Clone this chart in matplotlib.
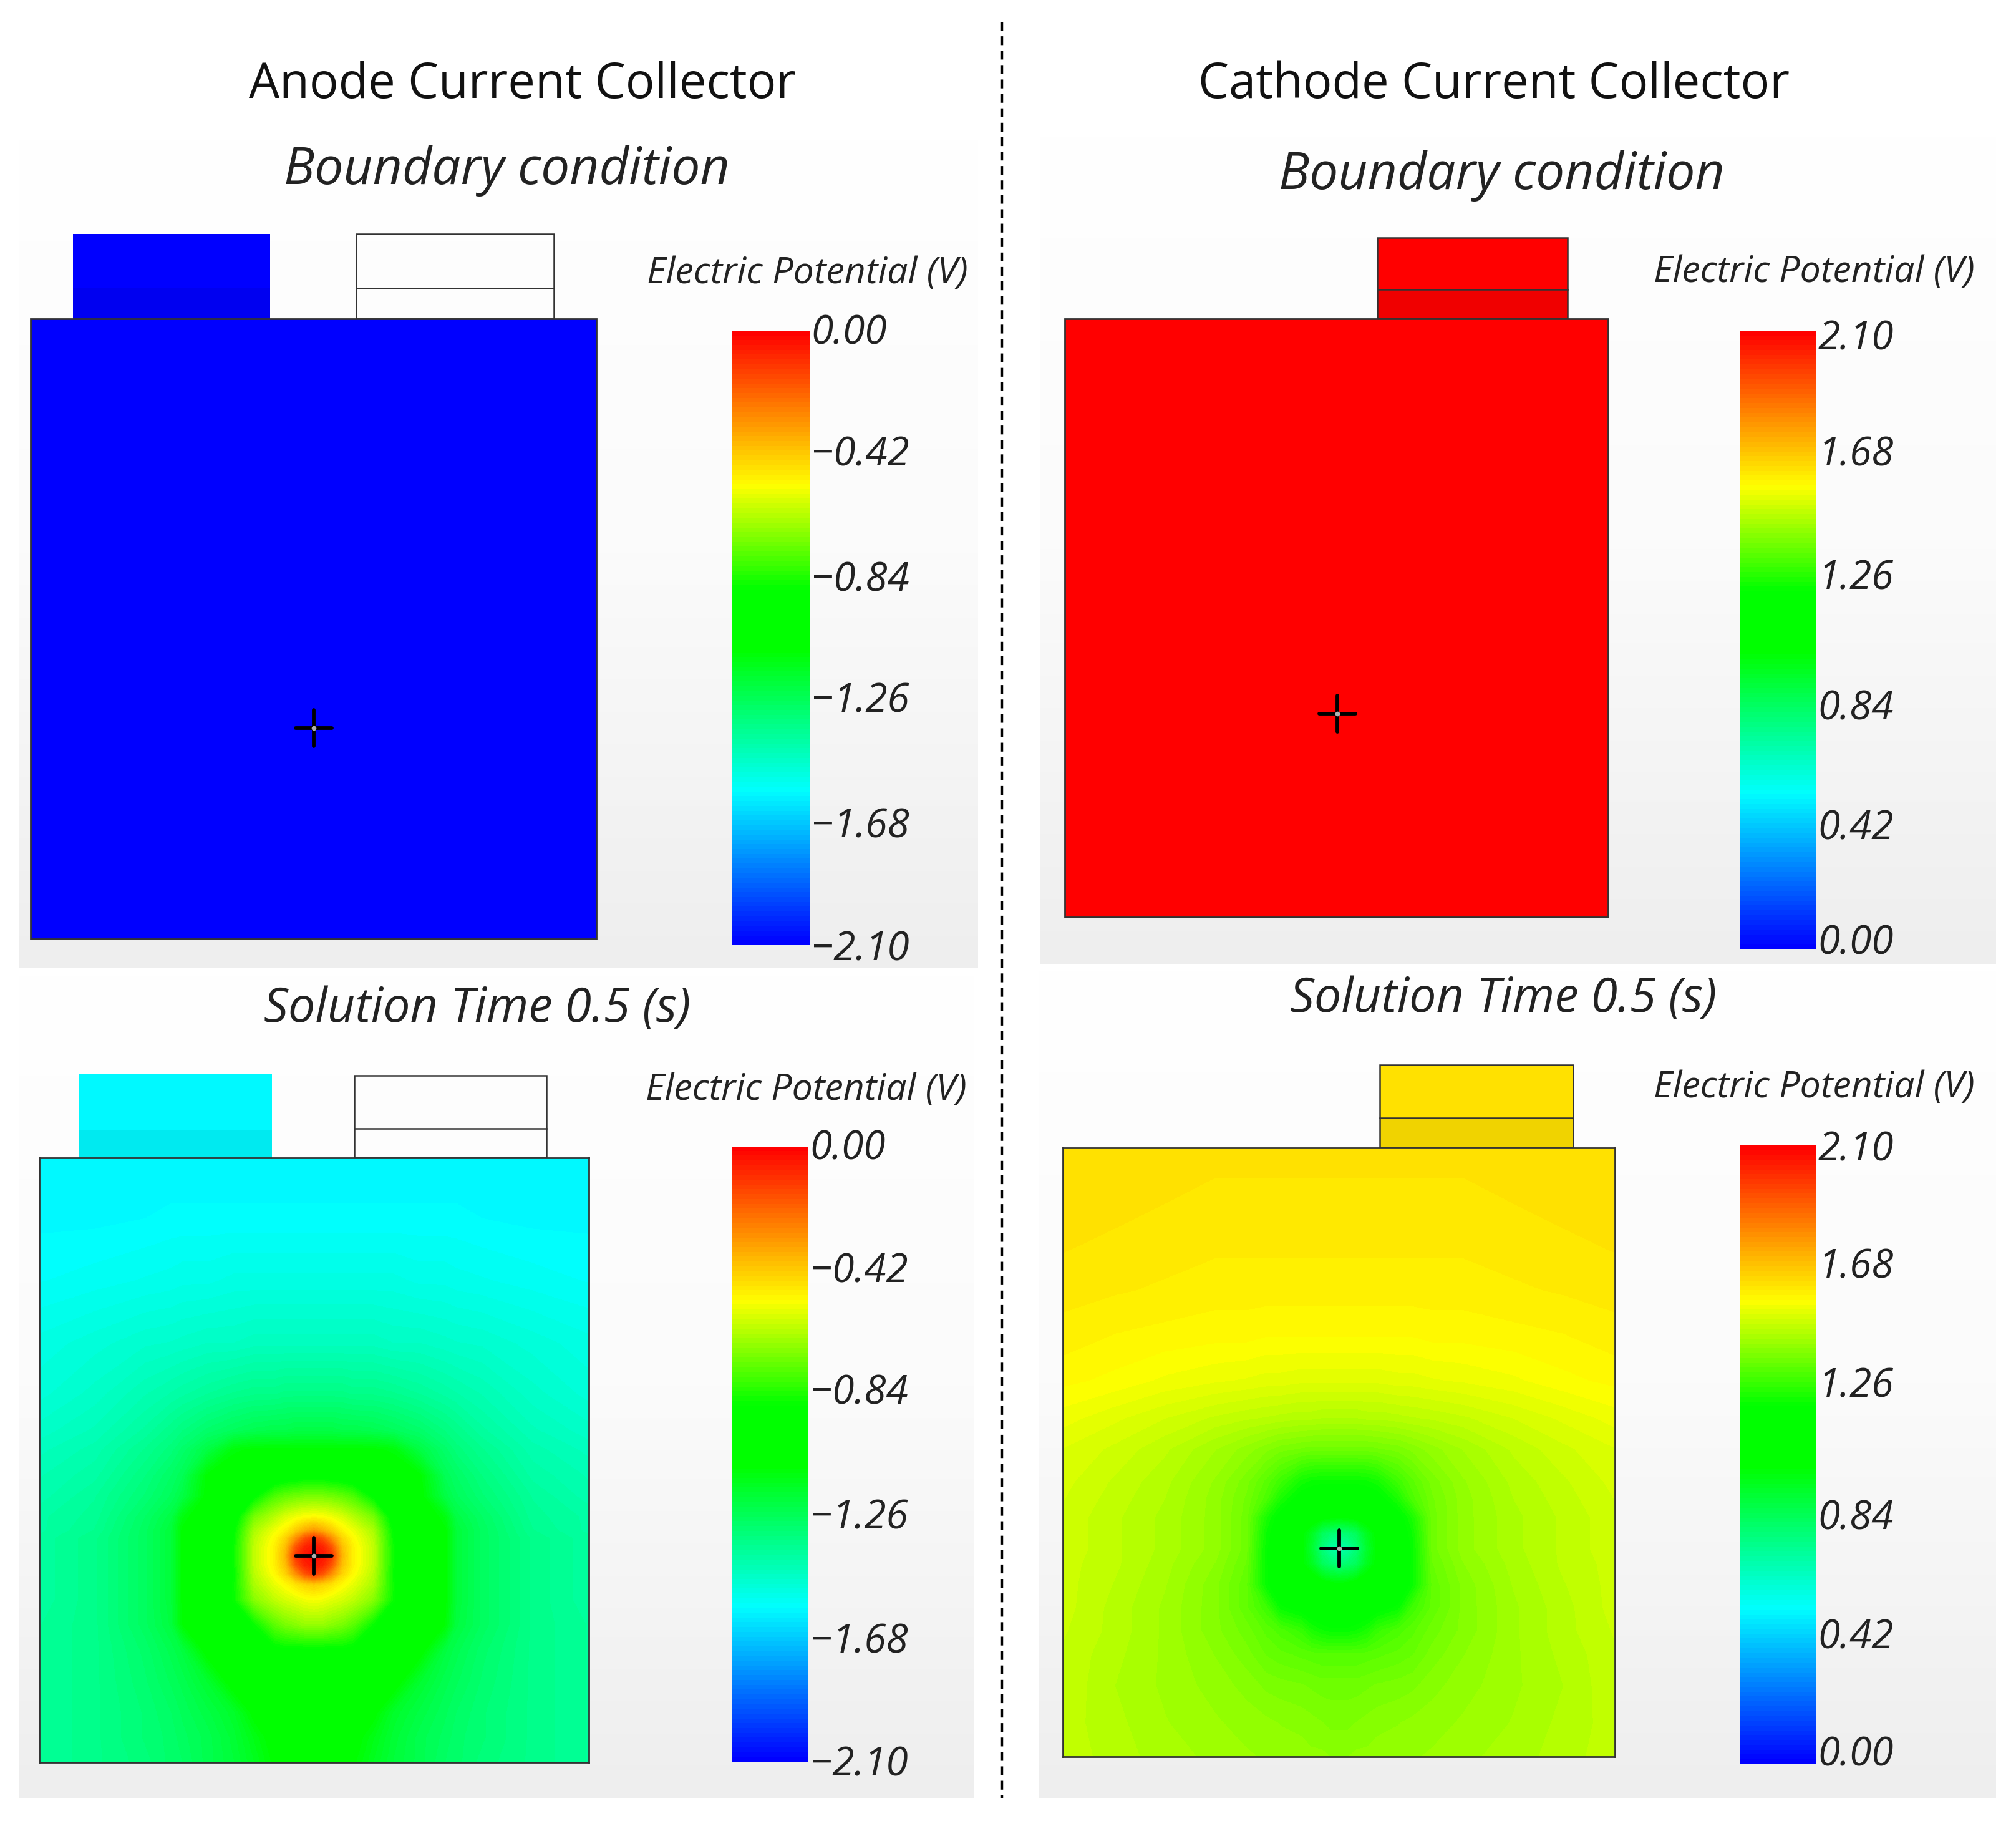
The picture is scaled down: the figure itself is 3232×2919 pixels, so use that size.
#!/usr/bin/env python3
"""Electric potential on the anode and cathode current collectors (four field panels)."""
import numpy as np
import matplotlib
matplotlib.use("Agg")
import matplotlib.pyplot as plt
from matplotlib.colors import LinearSegmentedColormap, Normalize
from matplotlib.patches import Rectangle
from matplotlib.transforms import Affine2D

W, H = 3232, 2919
DPI = 100

# ---- data ----
anode_ticks = [0.00, -0.42, -0.84, -1.26, -1.68, -2.10]
cathode_ticks = [2.10, 1.68, 1.26, 0.84, 0.42, 0.00]

# boundary condition panels are uniform
anode_bc_value = -2.10
cathode_bc_value = 2.10

# tab colours at 0.5 s
anode_tab_value = -1.59
cathode_tab_value = 1.63

# anode 0.5 s: distance from the contact point (px), right half of the panel
anode_dx = [0, 14, 28, 45, 62, 95, 128, 170, 210, 228, 270, 350, 441]
anode_dy = [-638, -540, -440, -340, -260, -200, -170, -128, -95, -62, -40, -28,
            -14, 0, 14, 28, 45, 70, 110, 150, 200, 250, 290, 331]
anode_field = [
    [-1.59, -1.59, -1.59, -1.59, -1.59, -1.59, -1.59, -1.59, -1.59, -1.59, -1.59, -1.59, -1.59],
    [-1.57, -1.57, -1.57, -1.57, -1.57, -1.57, -1.57, -1.57, -1.57, -1.57, -1.575, -1.58, -1.58],
    [-1.52, -1.52, -1.52, -1.52, -1.52, -1.52, -1.52, -1.53, -1.53, -1.535, -1.54, -1.55, -1.56],
    [-1.45, -1.45, -1.45, -1.45, -1.45, -1.45, -1.46, -1.46, -1.47, -1.475, -1.48, -1.50, -1.52],
    [-1.34, -1.34, -1.34, -1.34, -1.35, -1.35, -1.36, -1.38, -1.40, -1.41, -1.43, -1.47, -1.50],
    [-1.22, -1.22, -1.22, -1.23, -1.23, -1.24, -1.26, -1.29, -1.33, -1.35, -1.39, -1.44, -1.47],
    [-1.09, -1.09, -1.09, -1.09, -1.09, -1.09, -1.11, -1.22, -1.29, -1.32, -1.36, -1.42, -1.45],
    [-0.92, -0.92, -0.93, -0.94, -0.96, -1.00, -1.05, -1.09, -1.25, -1.28, -1.33, -1.40, -1.43],
    [-0.72, -0.72, -0.73, -0.75, -0.78, -0.90, -1.00, -1.08, -1.22, -1.26, -1.31, -1.38, -1.42],
    [-0.52, -0.53, -0.55, -0.58, -0.63, -0.72, -0.94, -1.04, -1.12, -1.22, -1.28, -1.37, -1.40],
    [-0.32, -0.36, -0.42, -0.50, -0.55, -0.65, -0.90, -1.01, -1.09, -1.20, -1.27, -1.36, -1.40],
    [-0.12, -0.18, -0.30, -0.44, -0.52, -0.63, -0.89, -1.00, -1.09, -1.20, -1.27, -1.35, -1.39],
    [-0.05, -0.08, -0.18, -0.40, -0.50, -0.62, -0.88, -1.00, -1.09, -1.20, -1.27, -1.35, -1.39],
    [0.00, -0.05, -0.12, -0.38, -0.50, -0.62, -0.88, -1.00, -1.09, -1.20, -1.27, -1.35, -1.39],
    [-0.05, -0.08, -0.18, -0.40, -0.50, -0.62, -0.88, -1.00, -1.09, -1.20, -1.27, -1.35, -1.39],
    [-0.12, -0.18, -0.30, -0.44, -0.52, -0.63, -0.89, -1.00, -1.09, -1.20, -1.27, -1.35, -1.39],
    [-0.42, -0.44, -0.47, -0.52, -0.56, -0.65, -0.88, -1.00, -1.09, -1.20, -1.27, -1.35, -1.39],
    [-0.54, -0.55, -0.57, -0.59, -0.62, -0.70, -0.88, -1.00, -1.09, -1.20, -1.27, -1.35, -1.39],
    [-0.68, -0.68, -0.70, -0.72, -0.76, -0.88, -0.95, -1.02, -1.10, -1.21, -1.27, -1.35, -1.38],
    [-0.90, -0.90, -0.90, -0.90, -0.91, -0.93, -0.98, -1.07, -1.21, -1.24, -1.29, -1.35, -1.38],
    [-0.97, -0.97, -0.97, -0.97, -0.98, -1.00, -1.06, -1.18, -1.24, -1.26, -1.30, -1.35, -1.38],
    [-1.02, -1.02, -1.02, -1.02, -1.03, -1.08, -1.17, -1.22, -1.26, -1.28, -1.31, -1.35, -1.38],
    [-1.04, -1.04, -1.04, -1.05, -1.07, -1.13, -1.19, -1.24, -1.27, -1.29, -1.31, -1.35, -1.38],
    [-1.06, -1.06, -1.06, -1.07, -1.09, -1.15, -1.20, -1.24, -1.28, -1.29, -1.32, -1.35, -1.38],
]

# cathode 0.5 s
cathode_dx = [0, 14, 28, 45, 62, 95, 118, 150, 200, 280, 360, 443]
cathode_dy = [-642, -560, -480, -415, -340, -270, -210, -160, -108, -80, -50, -25,
              0, 25, 58, 95, 132, 170, 220, 280, 334]
cathode_field = [
    [1.63, 1.63, 1.63, 1.63, 1.63, 1.63, 1.63, 1.63, 1.63, 1.63, 1.63, 1.635],
    [1.62, 1.62, 1.62, 1.62, 1.62, 1.62, 1.62, 1.62, 1.62, 1.625, 1.63, 1.63],
    [1.61, 1.61, 1.61, 1.61, 1.61, 1.61, 1.61, 1.61, 1.61, 1.615, 1.62, 1.625],
    [1.60, 1.60, 1.60, 1.60, 1.60, 1.60, 1.60, 1.60, 1.60, 1.605, 1.61, 1.615],
    [1.575, 1.575, 1.575, 1.575, 1.575, 1.575, 1.575, 1.58, 1.58, 1.585, 1.59, 1.60],
    [1.53, 1.53, 1.53, 1.53, 1.53, 1.535, 1.535, 1.54, 1.545, 1.555, 1.57, 1.58],
    [1.46, 1.46, 1.46, 1.465, 1.465, 1.47, 1.475, 1.48, 1.49, 1.51, 1.53, 1.55],
    [1.37, 1.37, 1.37, 1.37, 1.375, 1.385, 1.40, 1.42, 1.445, 1.48, 1.505, 1.525],
    [1.22, 1.22, 1.22, 1.225, 1.24, 1.30, 1.34, 1.385, 1.425, 1.465, 1.49, 1.515],
    [1.16, 1.16, 1.17, 1.18, 1.19, 1.25, 1.32, 1.375, 1.42, 1.46, 1.485, 1.51],
    [1.00, 1.01, 1.02, 1.05, 1.09, 1.19, 1.25, 1.37, 1.42, 1.455, 1.48, 1.505],
    [0.78, 0.80, 0.84, 0.95, 1.02, 1.17, 1.23, 1.37, 1.42, 1.455, 1.48, 1.505],
    [0.68, 0.70, 0.78, 0.92, 1.02, 1.16, 1.22, 1.37, 1.42, 1.455, 1.48, 1.505],
    [0.78, 0.80, 0.84, 0.95, 1.02, 1.16, 1.22, 1.36, 1.41, 1.45, 1.48, 1.50],
    [1.01, 1.02, 1.04, 1.07, 1.10, 1.17, 1.22, 1.35, 1.40, 1.445, 1.475, 1.50],
    [1.15, 1.15, 1.16, 1.17, 1.19, 1.22, 1.30, 1.35, 1.40, 1.44, 1.47, 1.50],
    [1.22, 1.22, 1.23, 1.25, 1.29, 1.32, 1.34, 1.37, 1.40, 1.44, 1.47, 1.495],
    [1.33, 1.33, 1.33, 1.335, 1.34, 1.35, 1.36, 1.385, 1.41, 1.44, 1.465, 1.49],
    [1.37, 1.37, 1.37, 1.375, 1.38, 1.385, 1.39, 1.405, 1.42, 1.44, 1.46, 1.49],
    [1.39, 1.39, 1.395, 1.40, 1.405, 1.41, 1.415, 1.42, 1.43, 1.445, 1.465, 1.485],
    [1.41, 1.41, 1.415, 1.415, 1.42, 1.42, 1.425, 1.43, 1.44, 1.45, 1.47, 1.485],
]

# colour table of the scale: position from the low end, colour
scale_pos = [0.0, 0.25, 0.48, 0.58, 0.75, 1.0]
scale_col = ["#0000ff", "#00ffff", "#00ff00", "#00ff00", "#ffff00", "#ff0000"]
cmap = LinearSegmentedColormap.from_list("potential", list(zip(scale_pos, scale_col)), N=128)

FONT = "Open Sans"
EDGE = "#333333"
plt.rcParams["font.family"] = [FONT, "DejaVu Sans"]


def add_axes(fig, x0, y0, x1, y1):
    """Axes placed by picture pixels (y counted from the top)."""
    return fig.add_axes([x0 / W, 1 - y1 / H, (x1 - x0) / W, (y1 - y0) / H])


def gray_panel(ax, x0, y0, x1, y1):
    grad = np.linspace(0, 1, 256)[:, None]
    ax.imshow(grad, extent=(x0, x1, y1, y0), aspect="auto", zorder=0,
              cmap=LinearSegmentedColormap.from_list("bg", ["#ffffff", "#fbfbfb", "#eeeeee"]))


def tab(ax, x0, x1, top, mid, base, face=None, line=True):
    """Terminal tab above the collector, split by one line."""
    fc = face if face is not None else "none"
    ec = EDGE if line else "none"
    ax.add_patch(Rectangle((x0, top), x1 - x0, base - top, fc=fc, ec=ec, lw=1.8, zorder=2))
    if face is not None:
        ax.add_patch(Rectangle((x0, mid), x1 - x0, base - mid, fc="black", alpha=0.06, lw=0, zorder=3))
    if line:
        ax.plot([x0, x1], [mid, mid], color=EDGE, lw=1.8, zorder=3)


def cross(ax, x, y, arm=29, zorder=6):
    ax.plot([x - arm, x + arm], [y, y], color="black", lw=4.2, zorder=zorder, solid_capstyle="round")
    ax.plot([x, x], [y - arm, y + arm], color="black", lw=4.2, zorder=zorder, solid_capstyle="round")
    ax.plot([x], [y], "o", ms=5.5, color="#b0b0b0", mew=0, zorder=zorder + 1)


def scale_bar(fig, x0, y0, x1, y1, ticks, nudge):
    lo, hi = min(ticks), max(ticks)
    ax = add_axes(fig, x0, y0, x1, y1)
    ax.imshow(np.linspace(hi, lo, 512)[:, None], extent=(0, 1, lo, hi), aspect="auto",
              cmap=cmap, vmin=lo, vmax=hi, interpolation="nearest")
    ax.set_xticks([])
    ax.yaxis.tick_right()
    ax.set_yticks(ticks)
    labels = ax.set_yticklabels([f"{t:.2f}".replace("-", "\u2212") for t in ticks],
                                fontsize=46, style="italic", color="#222222")
    ax.tick_params(axis="y", length=0, pad=2)
    # the labels sit a little off the even spacing in the original
    for lab, dy in zip(labels, nudge):
        lab.set_transform(lab.get_transform() + Affine2D().translate(0, -dy))
    for s in ax.spines.values():
        s.set_visible(False)


def field(fig, rect, cx, cy, dx, dy, values, ticks):
    x0, y0, x1, y1 = rect
    lo, hi = min(ticks), max(ticks)
    z = np.array(values)
    z = np.hstack([z[:, :0:-1], z])
    xs = np.r_[-np.array(dx[:0:-1]), dx]
    ax = add_axes(fig, x0, y0, x1, y1)
    cs = ax.contourf(xs, dy, z, levels=np.linspace(lo, hi, 129), cmap=cmap, vmin=lo, vmax=hi)
    cs.set_edgecolor("face")
    ax.set_xlim(x0 - cx, x1 - cx)
    ax.set_ylim(y1 - cy, y0 - cy)
    ax.set_xticks([])
    ax.set_yticks([])
    for s in ax.spines.values():
        s.set_linewidth(2.0)
        s.set_color(EDGE)
    cross(ax, 0, 0)
    return ax


fig = plt.figure(figsize=(W / DPI, H / DPI), dpi=DPI, facecolor="white")
bg = fig.add_axes([0, 0, 1, 1])
bg.set_xlim(0, W)
bg.set_ylim(H, 0)
bg.axis("off")

gray_panel(bg, 30, 220, 1568, 1552)
gray_panel(bg, 1668, 215, 3200, 1545)
gray_panel(bg, 30, 1560, 1562, 2882)
gray_panel(bg, 1666, 1552, 3200, 2882)
bg.set_xlim(0, W)
bg.set_ylim(H, 0)

bg.plot([1606, 1606], [35, 2882], color="black", lw=3.2, ls=(0, (3.2, 2.0)), zorder=2)

norm_a = Normalize(min(anode_ticks), max(anode_ticks))
norm_c = Normalize(min(cathode_ticks), max(cathode_ticks))

# boundary condition, anode
tab(bg, 117, 433, 375, 462, 511, face=cmap(norm_a(anode_bc_value)), line=False)
tab(bg, 571, 888, 375, 462, 511)
bg.add_patch(Rectangle((49, 511), 907, 994, fc=cmap(norm_a(anode_bc_value)), ec=EDGE, lw=2.0, zorder=4))
cross(bg, 503, 1167)

# boundary condition, cathode
tab(bg, 2208, 2513, 381, 464, 511, face=cmap(norm_c(cathode_bc_value)))
bg.add_patch(Rectangle((1707, 511), 871, 959, fc=cmap(norm_c(cathode_bc_value)), ec=EDGE, lw=2.0, zorder=4))
cross(bg, 2144, 1144)

# 0.5 s tabs
tab(bg, 127, 436, 1722, 1812, 1856, face=cmap(norm_a(anode_tab_value)), line=False)
tab(bg, 568, 876, 1724, 1809, 1856)
tab(bg, 2212, 2522, 1707, 1792, 1840, face=cmap(norm_c(cathode_tab_value)))

field(fig, (63, 1856, 944, 2825), 503, 2494, anode_dx, anode_dy, anode_field, anode_ticks)
field(fig, (1704, 1840, 2589, 2816), 2147, 2482, cathode_dx, cathode_dy, cathode_field, cathode_ticks)

scale_bar(fig, 1174, 531, 1298, 1515, anode_ticks, [-4, -6, -2, -4, 0, 0])
scale_bar(fig, 1173, 1838, 1296, 2824, anode_ticks, [-4, -4, -6, -4, -2, -2])
scale_bar(fig, 2789, 530, 2912, 1521, cathode_ticks, [6, -6, -6, 4, -2, -16])
scale_bar(fig, 2789, 1836, 2912, 2828, cathode_ticks, [0, -10, -18, -4, -12, -22])

for x, y, s in [(838, 136, "Anode Current Collector"), (2395, 136, "Cathode Current Collector")]:
    bg.text(x, y, s, ha="center", va="center", fontsize=56, color="#111111", zorder=5)
for x, y, s, fs in [(812, 274, "Boundary condition", 59), (2407, 282, "Boundary condition", 59),
                    (765, 1618, "Solution Time 0.5 (s)", 55.5), (2410, 1602, "Solution Time 0.5 (s)", 55.5)]:
    bg.text(x, y, s, ha="center", va="center", fontsize=fs, style="italic", color="#222222", zorder=5)
for x, y in [(1294, 439), (2908, 437), (1292, 1748), (2908, 1744)]:
    bg.text(x, y, "Electric Potential (V)", ha="center", va="center", fontsize=42.5,
            style="italic", color="#222222", zorder=5)

fig.savefig("out.png", dpi=DPI, facecolor="white")
